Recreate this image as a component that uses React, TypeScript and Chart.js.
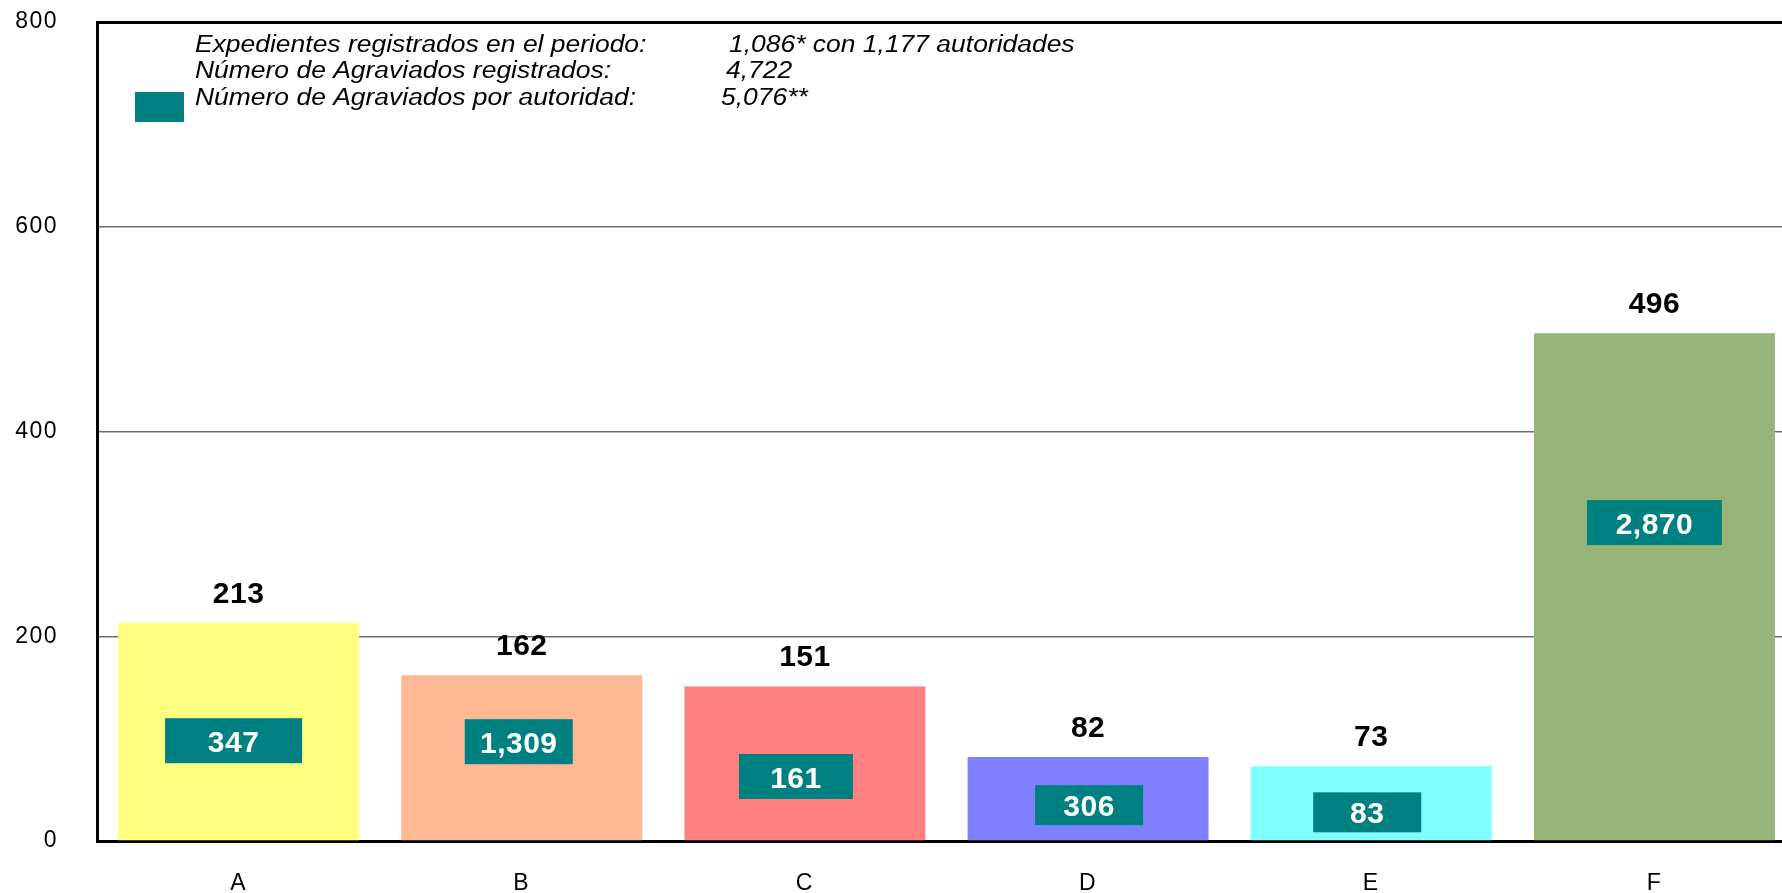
import React, { useEffect, useRef } from 'react';
import { Chart, registerables } from 'chart.js';

Chart.register(...registerables);

// ---- data ----
const categories = ['A', 'B', 'C', 'D', 'E', 'F'];
const expedientes = [213, 162, 151, 82, 73, 496];
const agraviados = [347, 1309, 161, 306, 83, 2870];
const yTickValues = [0, 200, 400, 600, 800];
const summaryLabels = [
  'Expedientes registrados en el periodo:',
  'Número de Agraviados registrados:',
  'Número de Agraviados por autoridad:',
];
const summaryValues = ['1,086* con 1,177 autoridades', '4,722', '5,076**'];

// ---- styles / layout ----
const barColors = ['#FFFF80', '#FFB894', '#FF8080', '#8080FF', '#80FFFF', '#96B478'];
const TEAL = '#008080';
const FONT = '"Liberation Sans", Arial, sans-serif';

// teal boxes: centre (in y-axis units), x offset, width, height (px)
const boxCenterAt = [98, 97, 63, 35, 28, 311];
const boxDx = [-5, -3, -9, 1, -4, 0];
const boxW = [137, 108, 114, 108, 108, 135];
const boxH = [45, 45, 45, 40, 40, 45];

const summaryBaselines = [52, 78, 104.5];
const summaryValueX = [729, 726, 721];
const SUMMARY_STRETCH = 1.15;

const overlayPlugin = {
  id: 'overlay',
  beforeDraw(chart: any) {
    chart.ctx.letterSpacing = '1.5px';
  },
  afterDatasetsDraw(chart: any) {
    const ctx = chart.ctx;
    const meta = chart.getDatasetMeta(0);
    const yScale = chart.scales.y;
    ctx.save();
    ctx.textAlign = 'center';
    ctx.textBaseline = 'alphabetic';
    ctx.letterSpacing = '0.5px';
    meta.data.forEach((bar: any, i: number) => {
      ctx.font = `bold 30px ${FONT}`;
      ctx.fillStyle = '#000';
      ctx.fillText(String(expedientes[i]), bar.x, bar.y - 20);
      const cy = yScale.getPixelForValue(boxCenterAt[i]);
      const cx = bar.x + boxDx[i];
      ctx.fillStyle = TEAL;
      ctx.fillRect(cx - boxW[i] / 2, cy - boxH[i] / 2, boxW[i], boxH[i]);
      ctx.fillStyle = '#fff';
      ctx.fillText(agraviados[i].toLocaleString('en-US'), cx, cy + 11);
    });
    // summary legend
    ctx.fillStyle = TEAL;
    ctx.fillRect(135, 92, 49, 30);
    ctx.fillStyle = '#000';
    ctx.textAlign = 'left';
    ctx.letterSpacing = '0px';
    ctx.font = `italic 23px ${FONT}`;
    const drawStretched = (t: string, x: number, y: number) => {
      ctx.save();
      ctx.translate(x, y);
      ctx.scale(SUMMARY_STRETCH, 1);
      ctx.fillText(t, 0, 0);
      ctx.restore();
    };
    summaryLabels.forEach((t, i) => {
      drawStretched(t, 195, summaryBaselines[i]);
      drawStretched(summaryValues[i], summaryValueX[i], summaryBaselines[i]);
    });
    ctx.restore();
  },
};

export default function App() {
  const ref = useRef<HTMLCanvasElement>(null);
  useEffect(() => {
    if (!ref.current) return;
    const chart = new Chart(ref.current, {
      type: 'bar',
      data: {
        labels: categories,
        datasets: [
          {
            data: expedientes,
            backgroundColor: barColors,
            borderWidth: 0,
            barPercentage: 0.851,
            categoryPercentage: 1,
          },
        ],
      },
      options: {
        responsive: false,
        animation: false,
        devicePixelRatio: 1,
        layout: { padding: { top: 22, right: 4, left: 0, bottom: 0 } },
        plugins: { legend: { display: false }, tooltip: { enabled: false } },
        scales: {
          x: {
            z: 1,
            grid: { display: false },
            border: { display: true, color: '#000', width: 3 },
            ticks: { color: '#000', font: { family: FONT, size: 23 }, padding: 21 },
            afterFit: (s: any) => {
              s.height = 52;
            },
          },
          y: {
            min: 0,
            max: 800,
            afterBuildTicks: (s: any) => {
              s.ticks = yTickValues.map((v) => ({ value: v }));
            },
            grid: {
              drawTicks: false,
              color: (c: any) =>
                c.tick.value === 800 ? '#000' : c.tick.value === 0 ? 'rgba(0,0,0,0)' : '#6e6e6e',
              lineWidth: (c: any) => (c.tick.value === 800 ? 3 : 1.5),
            },
            border: { display: true, color: '#000', width: 3 },
            ticks: { color: '#000', font: { family: FONT, size: 23 }, padding: 39 },
            afterFit: (s: any) => {
              s.width = 97;
              s.paddingTop = 0;
              s.paddingBottom = 0;
            },
          },
        },
      } as any,
      plugins: [overlayPlugin],
    });
    return () => chart.destroy();
  }, []);
  return (
    <div
      style={{
        position: 'fixed',
        left: 0,
        top: 0,
        width: 1782,
        height: 893,
        overflow: 'hidden',
        background: '#fff',
      }}
    >
      <canvas ref={ref} width={1800} height={893} style={{ display: 'block' }} />
    </div>
  );
}
